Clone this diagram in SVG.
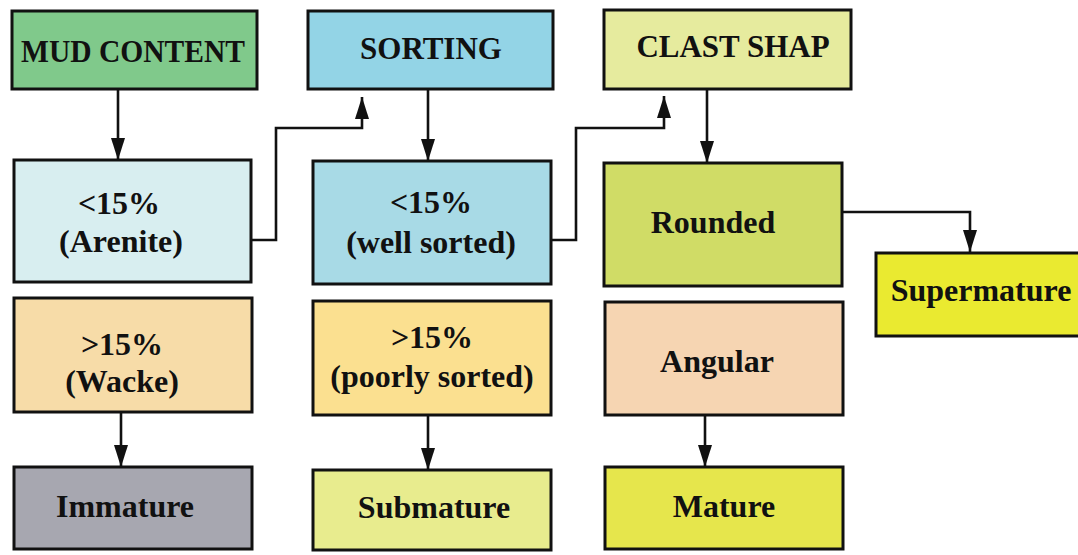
<svg xmlns="http://www.w3.org/2000/svg" width="1078" height="555" viewBox="0 0 1078 555">
<style>
.box{stroke:#111;stroke-width:3}
.t{font-family:"Liberation Serif","Times New Roman",serif;font-weight:bold;fill:#111;text-anchor:middle}
.h{font-size:31px}
.b{font-size:32px}
.c{fill:none;stroke:#111;stroke-width:2.6}
</style>
<defs>
<marker id="ah" viewBox="0 0 22 14" refX="22" refY="7" markerWidth="22" markerHeight="14" markerUnits="userSpaceOnUse" orient="auto">
<path d="M0,0 L22,7 L0,14 z" fill="#111"/>
</marker>
</defs>
<rect width="1078" height="555" fill="#fff"/>
<g id="connectors">
<path class="c" d="M118,89 V160" marker-end="url(#ah)"/>
<path class="c" d="M252,240 H276 V128 H362 V97" marker-end="url(#ah)"/>
<path class="c" d="M428,89 V161" marker-end="url(#ah)"/>
<path class="c" d="M551,240 H576 V128 H664 V96" marker-end="url(#ah)"/>
<path class="c" d="M707,89 V163" marker-end="url(#ah)"/>
<path class="c" d="M842,212 H970 V252" marker-end="url(#ah)"/>
<path class="c" d="M121,412 V467" marker-end="url(#ah)"/>
<path class="c" d="M428,415 V470" marker-end="url(#ah)"/>
<path class="c" d="M705,415 V467" marker-end="url(#ah)"/>
</g>
<g id="mud">
<rect class="box" x="12" y="11" width="245" height="78" fill="#80c98b"/>
<text class="t h" x="133" y="62" textLength="224" lengthAdjust="spacingAndGlyphs">MUD CONTENT</text>
</g>
<g id="sorting">
<rect class="box" x="308" y="11" width="245" height="78" fill="#93d4e6"/>
<text class="t h" x="431" y="59">SORTING</text>
</g>
<g id="clast">
<rect class="box" x="604" y="10" width="247" height="79" fill="#e6eb9e"/>
<text class="t h" x="733" y="57">CLAST SHAP</text>
</g>
<g id="arenite">
<rect class="box" x="14" y="160" width="237" height="122" fill="#d8eef0"/>
<text class="t b" x="119" y="214">&lt;15%</text>
<text class="t b" x="121" y="252">(Arenite)</text>
</g>
<g id="wellsorted">
<rect class="box" x="313" y="161" width="238" height="123" fill="#a8dae6"/>
<text class="t b" x="431" y="213">&lt;15%</text>
<text class="t b" x="431" y="253">(well sorted)</text>
</g>
<g id="rounded">
<rect class="box" x="604" y="163" width="238" height="123" fill="#d0dc66"/>
<text class="t b" x="713" y="233">Rounded</text>
</g>
<g id="supermature">
<rect class="box" x="876" y="253" width="220" height="83" fill="#eaea30"/>
<text class="t b" x="981" y="301">Supermature</text>
</g>
<g id="wacke">
<rect class="box" x="14" y="298" width="238" height="114" fill="#f7dca8"/>
<text class="t b" x="122" y="355">&gt;15%</text>
<text class="t b" x="122" y="392">(Wacke)</text>
</g>
<g id="poorlysorted">
<rect class="box" x="313" y="301" width="238" height="114" fill="#fbe090"/>
<text class="t b" x="432" y="348">&gt;15%</text>
<text class="t b" x="432" y="387">(poorly sorted)</text>
</g>
<g id="angular">
<rect class="box" x="605" y="302" width="238" height="113" fill="#f6d5b2"/>
<text class="t b" x="717" y="372">Angular</text>
</g>
<g id="immature">
<rect class="box" x="14" y="467" width="238" height="82" fill="#a7a7b0"/>
<text class="t b" x="125" y="517">Immature</text>
</g>
<g id="submature">
<rect class="box" x="313" y="470" width="238" height="80" fill="#e8ec8e"/>
<text class="t b" x="434" y="518">Submature</text>
</g>
<g id="mature">
<rect class="box" x="605" y="467" width="238" height="82" fill="#e6e64c"/>
<text class="t b" x="724" y="517">Mature</text>
</g>
</svg>
